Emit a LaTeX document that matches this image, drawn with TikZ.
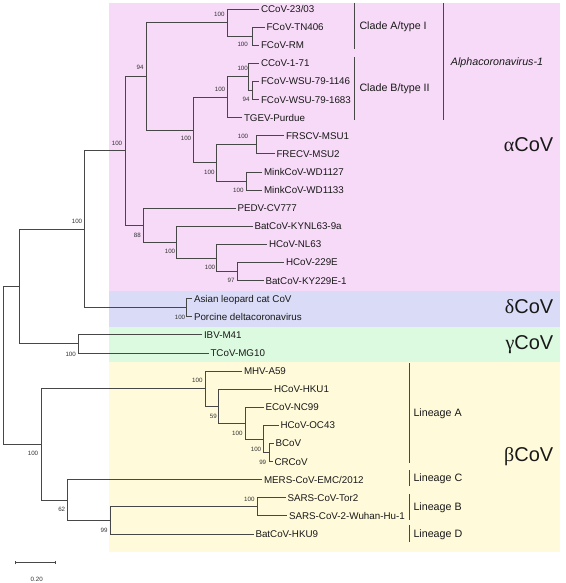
\documentclass[tikz,border=0pt]{standalone}
\usepackage{fontspec}
\setmainfont{Liberation Sans}
\newfontfamily\greekserif{Liberation Serif}
\usepackage{tikz}
\usetikzlibrary{arrows.meta}
\definecolor{alphabg}{RGB}{247,218,247}
\definecolor{deltabg}{RGB}{218,220,247}
\definecolor{gammabg}{RGB}{220,250,224}
\definecolor{betabg}{RGB}{255,250,218}
\colorlet{treeline}{black!72}
\tikzset{
  % node options
  leaf/.style={anchor=west,inner sep=1.8pt,text=black!90,
    font=\fontsize{9.8}{11}\selectfont,text height=7pt,text depth=0pt},
  boot/.style={inner sep=0pt,text=black!80,
    font=\fontsize{6.2}{7}\selectfont,text height=4.4pt,text depth=0pt},
  clade/.style={anchor=west,inner sep=0pt,text=black!90,
    font=\fontsize{10.7}{12}\selectfont,text height=7.6pt,text depth=0pt},
  genus/.style={anchor=base east,inner sep=0pt,text=black!90,
    font=\fontsize{20}{24}\selectfont},
  % path options
  branch/.style={draw=treeline,line width=0.8pt},
  cladebar/.style={draw=treeline,line width=0.8pt},
}

\begin{document}
\begin{tikzpicture}[x=1pt,y=-1pt]
    \useasboundingbox (0,0) rectangle (565,583);
    % shaded genera
    \fill[alphabg] (109.3,3) rectangle (560,290.7);
    \fill[deltabg] (109.3,290.7) rectangle (560,326.7);
    \fill[gammabg] (109.3,326.7) rectangle (560,362.3);
    \fill[betabg] (109.3,362.3) rectangle (560,552);

    % internal nodes
    \coordinate (tn) at (252.3,36.15);
    \coordinate (c23) at (227.3,22.6);
    \coordinate (wsu) at (252.3,90.45);
    \coordinate (c171) at (248.3,76.9);
    \coordinate (cladeB) at (227.3,97.25);
    \coordinate (fr) at (256.7,144.75);
    \coordinate (mink) at (246.7,180.95);
    \coordinate (frmink) at (216.7,162.85);
    \coordinate (bfm) at (193.3,130.05);
    \coordinate (n94) at (146,76.3);
    \coordinate (e229) at (237.3,271.45);
    \coordinate (nl63) at (216.7,257.9);
    \coordinate (kynl) at (176.7,242.05);
    \coordinate (n88) at (143.3,225.1);
    \coordinate (alpha) at (125,150.7);
    \coordinate (delta) at (186.7,307.65);
    \coordinate (ad) at (84.3,229.2);
    \coordinate (gamma) at (78.3,343.85);
    \coordinate (adg) at (19.3,286.5);
    \coordinate (crc) at (269,452.45);
    \coordinate (oc43) at (263.3,438.9);
    \coordinate (ecov) at (245,423.05);
    \coordinate (hku1) at (218.3,406.1);
    \coordinate (mhv) at (205,388.55);
    \coordinate (sars) at (257,506.75);
    \coordinate (hku9) at (110,520.3);
    \coordinate (n62) at (67.7,499.95);
    \coordinate (beta) at (41.7,444.25);
    \coordinate (root) at (3.3,365.4);

    % leaves
    \node[leaf] (CCoV2303) at (259,9) {CCoV-23/03};
    \node[leaf] (FCoVTN406) at (264.5,27.1) {FCoV-TN406};
    \node[leaf] (FCoVRM) at (259,45.2) {FCoV-RM};
    \node[leaf] (CCoV171) at (259,63.3) {CCoV-1-71};
    \node[leaf] (FCoVWSUa) at (259,81.4) {FCoV-WSU-79-1146};
    \node[leaf] (FCoVWSUb) at (259,99.5) {FCoV-WSU-79-1683};
    \node[leaf] (TGEV) at (242,117.6) {TGEV-Purdue};
    \node[leaf] (FRSCV) at (284,135.7) {FRSCV-MSU1};
    \node[leaf] (FRECV) at (274.5,153.8) {FRECV-MSU2};
    \node[leaf] (MinkA) at (262,171.9) {MinkCoV-WD1127};
    \node[leaf] (MinkB) at (262,190.0) {MinkCoV-WD1133};
    \node[leaf] (PEDV) at (235.5,208.1) {PEDV-CV777};
    \node[leaf] (KYNL) at (252.5,226.2) {BatCoV-KYNL63-9a};
    \node[leaf] (NL63) at (267,244.3) {HCoV-NL63};
    \node[leaf] (HCoV229E) at (284,262.4) {HCoV-229E};
    \node[leaf] (KY229E) at (263.5,280.5) {BatCoV-KY229E-1};
    \node[leaf] (ALCCoV) at (192,298.6) {Asian leopard cat CoV};
    \node[leaf] (PDCoV) at (192,316.7) {Porcine deltacoronavirus};
    \node[leaf] (IBV) at (202,334.8) {IBV-M41};
    \node[leaf] (TCoV) at (208.5,352.9) {TCoV-MG10};
    \node[leaf] (MHV) at (242,371.0) {MHV-A59};
    \node[leaf] (HKU1) at (272,389.1) {HCoV-HKU1};
    \node[leaf] (ECoV) at (263.5,407.2) {ECoV-NC99};
    \node[leaf] (OC43) at (278.5,425.3) {HCoV-OC43};
    \node[leaf] (BCoV) at (273.5,443.4) {BCoV};
    \node[leaf] (CRCoV) at (272.5,461.5) {CRCoV};
    \node[leaf] (MERS) at (262,479.6) {MERS-CoV-EMC/2012};
    \node[leaf] (SARS) at (285.5,497.7) {SARS-CoV-Tor2};
    \node[leaf] (SARS2) at (287,515.8) {SARS-CoV-2-Wuhan-Hu-1};
    \node[leaf] (HKU9) at (253.5,533.9) {BatCoV-HKU9};

    % branches
    \draw[branch] (tn) |- (FCoVTN406.west);
    \draw[branch] (tn) |- (FCoVRM.west);
    \draw[branch] (c23) |- (CCoV2303.west);
    \draw[branch] (c23) |- (tn);
    \draw[branch] (wsu) |- (FCoVWSUa.west);
    \draw[branch] (wsu) |- (FCoVWSUb.west);
    \draw[branch] (c171) |- (CCoV171.west);
    \draw[branch] (c171) |- (wsu);
    \draw[branch] (cladeB) |- (c171);
    \draw[branch] (cladeB) |- (TGEV.west);
    \draw[branch] (fr) |- (FRSCV.west);
    \draw[branch] (fr) |- (FRECV.west);
    \draw[branch] (mink) |- (MinkA.west);
    \draw[branch] (mink) |- (MinkB.west);
    \draw[branch] (frmink) |- (fr);
    \draw[branch] (frmink) |- (mink);
    \draw[branch] (bfm) |- (cladeB);
    \draw[branch] (bfm) |- (frmink);
    \draw[branch] (n94) |- (c23);
    \draw[branch] (n94) |- (bfm);
    \draw[branch] (e229) |- (HCoV229E.west);
    \draw[branch] (e229) |- (KY229E.west);
    \draw[branch] (nl63) |- (NL63.west);
    \draw[branch] (nl63) |- (e229);
    \draw[branch] (kynl) |- (KYNL.west);
    \draw[branch] (kynl) |- (nl63);
    \draw[branch] (n88) |- (PEDV.west);
    \draw[branch] (n88) |- (kynl);
    \draw[branch] (alpha) |- (n94);
    \draw[branch] (alpha) |- (n88);
    \draw[branch] (delta) |- (ALCCoV.west);
    \draw[branch] (delta) |- (PDCoV.west);
    \draw[branch] (ad) |- (alpha);
    \draw[branch] (ad) |- (delta);
    \draw[branch] (gamma) |- (IBV.west);
    \draw[branch] (gamma) |- (TCoV.west);
    \draw[branch] (adg) |- (ad);
    \draw[branch] (adg) |- (gamma);
    \draw[branch] (crc) |- (BCoV.west);
    \draw[branch] (crc) |- (CRCoV.west);
    \draw[branch] (oc43) |- (OC43.west);
    \draw[branch] (oc43) |- (crc);
    \draw[branch] (ecov) |- (ECoV.west);
    \draw[branch] (ecov) |- (oc43);
    \draw[branch] (hku1) |- (HKU1.west);
    \draw[branch] (hku1) |- (ecov);
    \draw[branch] (mhv) |- (MHV.west);
    \draw[branch] (mhv) |- (hku1);
    \draw[branch] (sars) |- (SARS.west);
    \draw[branch] (sars) |- (SARS2.west);
    \draw[branch] (hku9) |- (sars);
    \draw[branch] (hku9) |- (HKU9.west);
    \draw[branch] (n62) |- (MERS.west);
    \draw[branch] (n62) |- (hku9);
    \draw[branch] (beta) |- (mhv);
    \draw[branch] (beta) |- (n62);
    \draw[branch] (root) |- (adg);
    \draw[branch] (root) |- (beta);

    % bootstrap values
    \node[boot] (b-c23) at (219.3,14) {100};
    \node[boot] (b-tn) at (242.7,44.3) {100};
    \node[boot] (b-n94) at (140,67.3) {94};
    \node[boot] (b-cladeB) at (220,89.3) {100};
    \node[boot] (b-c171) at (242.7,68.3) {100};
    \node[boot] (b-wsu) at (246,99.3) {94};
    \node[boot] (b-bfm) at (186,138.3) {100};
    \node[boot] (b-fr) at (243,136.7) {100};
    \node[boot] (b-frmink) at (209.3,172.7) {100};
    \node[boot] (b-mink) at (238.3,190.7) {100};
    \node[boot] (b-n88) at (137.3,235) {88};
    \node[boot] (b-kynl) at (170,251.7) {100};
    \node[boot] (b-nl63) at (210,267.3) {100};
    \node[boot] (b-e229) at (231,280.7) {97};
    \node[boot] (b-alpha) at (117,143) {100};
    \node[boot] (b-ad) at (77,221) {100};
    \node[boot] (b-delta) at (180,317) {100};
    \node[boot] (b-gamma) at (70.7,354) {100};
    \node[boot] (b-beta) at (33,453) {100};
    \node[boot] (b-mhv) at (197.3,380.7) {100};
    \node[boot] (b-hku1) at (213.3,416) {59};
    \node[boot] (b-ecov) at (237.3,433) {100};
    \node[boot] (b-oc43) at (256,449) {100};
    \node[boot] (b-crc) at (262.7,462) {99};
    \node[boot] (b-sars) at (249.3,499.3) {100};
    \node[boot] (b-hku9) at (104,530.3) {99};
    \node[boot] (b-n62) at (61.7,509.3) {62};

    % clade bars and names
    \coordinate (cladeAtop) at (354,3);
    \coordinate (cladeAbot) at (354,49.3);
    \coordinate (cladeBtop) at (354,57.3);
    \coordinate (cladeBbot) at (354,120);
    \coordinate (acov1top) at (443.3,3);
    \coordinate (acov1bot) at (443.3,120);
    \coordinate (linAtop) at (409.3,363.3);
    \coordinate (linAbot) at (409.3,463.3);
    \coordinate (linCtop) at (409.3,470);
    \coordinate (linCbot) at (409.3,486);
    \coordinate (linBtop) at (409.3,494);
    \coordinate (linBbot) at (409.3,520);
    \coordinate (linDtop) at (409.3,525.3);
    \coordinate (linDbot) at (409.3,541.7);
    \draw[cladebar] (cladeAtop) -- (cladeAbot);
    \draw[cladebar] (cladeBtop) -- (cladeBbot);
    \draw[cladebar] (acov1top) -- (acov1bot);
    \draw[cladebar] (linAtop) -- (linAbot);
    \draw[cladebar] (linCtop) -- (linCbot);
    \draw[cladebar] (linBtop) -- (linBbot);
    \draw[cladebar] (linDtop) -- (linDbot);
    \node[clade] (cladeA) at (359.3,26) {Clade A/type I};
    \node[clade] (cladeBname) at (359.3,87.3) {Clade B/type II};
    \node[clade] (acov1) at (450.7,61.7) {\itshape Alphacoronavirus-1};
    \node[clade] (linA) at (413.3,412.7) {Lineage A};
    \node[clade] (linC) at (413.3,477.7) {Lineage C};
    \node[clade] (linB) at (413.3,506.7) {Lineage B};
    \node[clade] (linD) at (413.3,533.3) {Lineage D};

    % genera
    \node[genus] (acov) at (553.5,151.2) {{\greekserif α}CoV};
    \node[genus] (dcov) at (553.5,313.2) {{\greekserif δ}CoV};
    \node[genus] (gcov) at (553.5,349.9) {{\greekserif γ}CoV};
    \node[genus] (bcov) at (553.5,461.2) {{\greekserif β}CoV};

    % scale
    \coordinate (scaleL) at (15,562.7);
    \coordinate (scaleR) at (55.7,562.7);
    \draw[branch,{Bar[width=3.5pt]}-{Bar[width=3.5pt]}] (scaleL) -- (scaleR);
    \node[boot] (scale) at (36.7,579) {0.20};
\end{tikzpicture}
\end{document}
